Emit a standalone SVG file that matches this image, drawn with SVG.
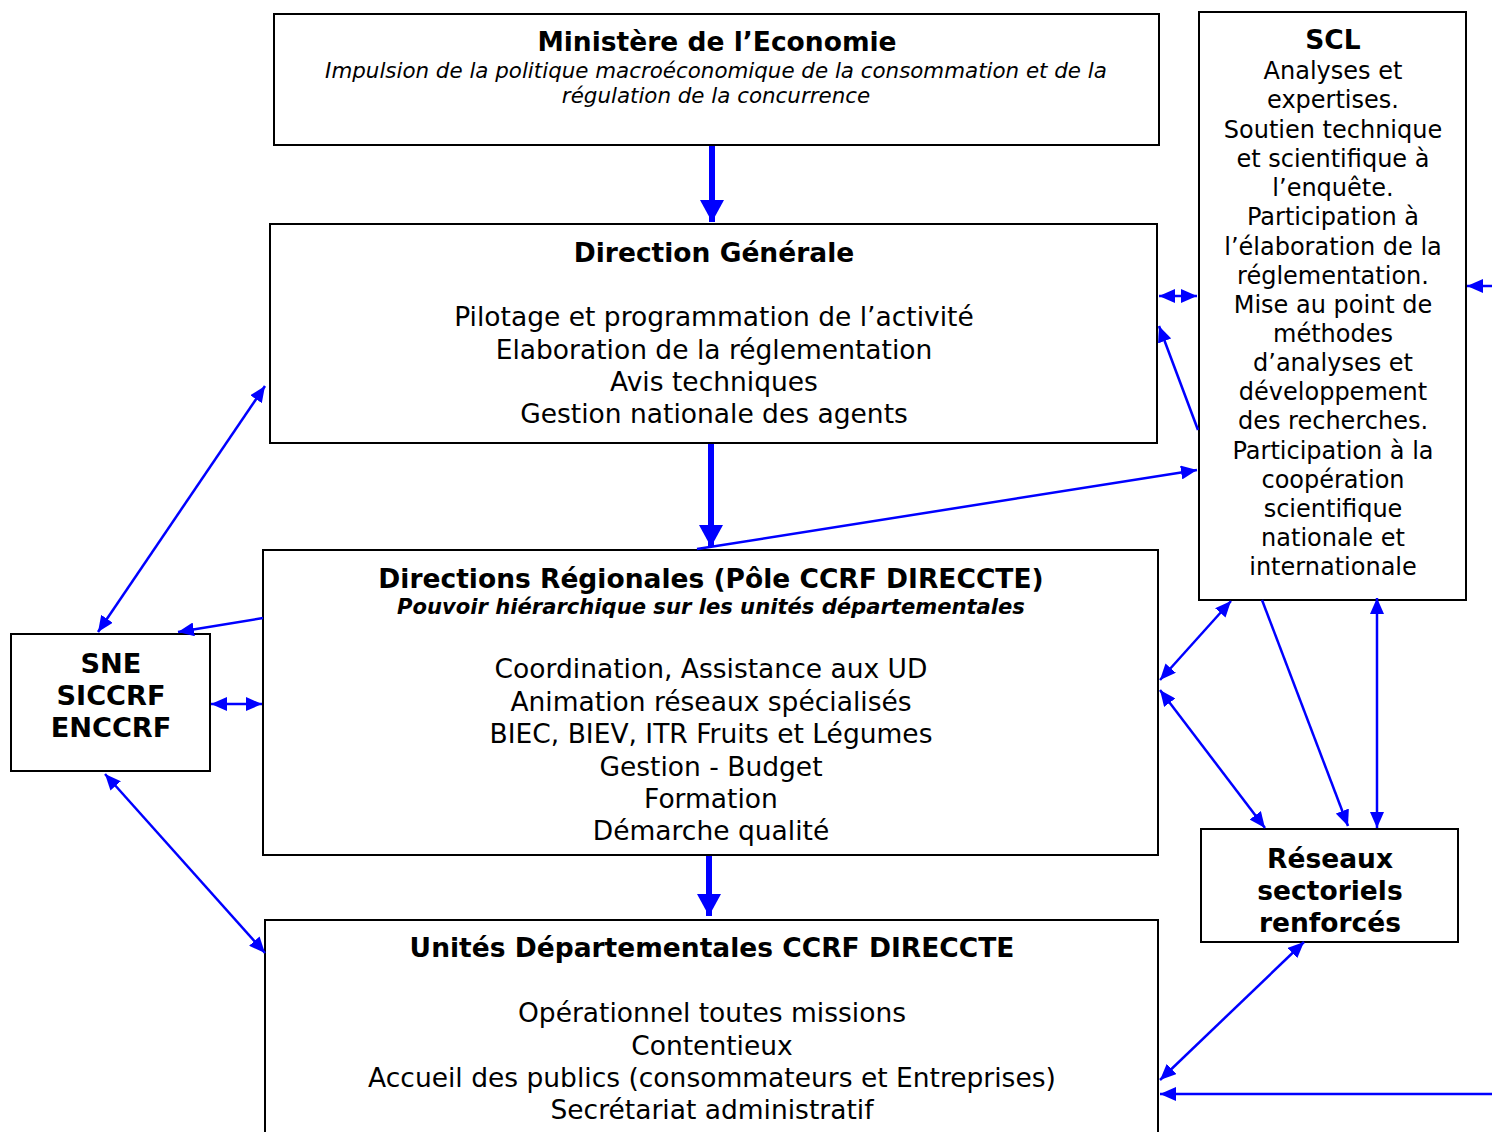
<svg xmlns="http://www.w3.org/2000/svg" width="1492" height="1132" viewBox="0 0 1492 1132">
<defs>
<marker id="ah" markerUnits="userSpaceOnUse" markerWidth="16" markerHeight="14" refX="16" refY="7" orient="auto-start-reverse" viewBox="0 0 16 14">
<path d="M0,0 L16,7 L0,14 Z" fill="#0000ff"/>
</marker>
<marker id="big" markerUnits="userSpaceOnUse" markerWidth="22" markerHeight="24" refX="22" refY="12" orient="auto" viewBox="0 0 22 24">
<path d="M0,0 L22,12 L0,24 Z" fill="#0000ff"/>
</marker>
</defs>
<style>
.box{fill:#fff;stroke:#000;stroke-width:2}
text{font-family:"DejaVu Sans",Verdana,sans-serif;fill:#000;text-anchor:middle}
.t{font-size:26.5px;font-weight:bold}
.b{font-size:26.5px}
.i{font-size:21.4px;font-style:italic}
.bi{font-size:21.1px;font-style:italic;font-weight:bold}
.s{font-size:24px}
.n{font-size:27.2px;font-weight:bold}
.c{fill:none;stroke:#0000ff;stroke-width:2.5}
.thick{fill:none;stroke:#0000ff;stroke-width:6}
</style>
<rect width="1492" height="1132" fill="#fff"/>
<g id="ministere">
<rect class="box" x="274" y="14" width="885" height="131"/>
<text class="t" x="717" y="51">Ministère de l’Economie</text>
<text class="i" x="716" y="78">Impulsion de la politique macroéconomique de la consommation et de la</text>
<text class="i" x="716" y="103">régulation de la concurrence</text>
</g>
<g id="dg">
<rect class="box" x="270" y="224" width="887" height="219"/>
<text class="t" x="714" y="262">Direction Générale</text>
<text class="b" x="714" y="326">Pilotage et programmation de l’activité</text>
<text class="b" x="714" y="359">Elaboration de la réglementation</text>
<text class="b" x="714" y="391">Avis techniques</text>
<text class="b" x="714" y="423">Gestion nationale des agents</text>
</g>
<g id="dr">
<rect class="box" x="263" y="550" width="895" height="305"/>
<text class="t" x="711" y="588">Directions Régionales (Pôle CCRF DIRECCTE)</text>
<text class="bi" x="711" y="614">Pouvoir hiérarchique sur les unités départementales</text>
<text class="b" x="711" y="678">Coordination, Assistance aux UD</text>
<text class="b" x="711" y="711">Animation réseaux spécialisés</text>
<text class="b" x="711" y="743">BIEC, BIEV, ITR Fruits et Légumes</text>
<text class="b" x="711" y="776">Gestion - Budget</text>
<text class="b" x="711" y="808">Formation</text>
<text class="b" x="711" y="840">Démarche qualité</text>
</g>
<g id="ud">
<rect class="box" x="265" y="920" width="893" height="230"/>
<text class="t" x="712" y="957">Unités Départementales CCRF DIRECCTE</text>
<text class="b" x="712" y="1022">Opérationnel toutes missions</text>
<text class="b" x="712" y="1055">Contentieux</text>
<text class="b" x="712" y="1087">Accueil des publics (consommateurs et Entreprises)</text>
<text class="b" x="712" y="1119">Secrétariat administratif</text>
</g>
<g id="sne">
<rect class="box" x="11" y="634" width="199" height="137"/>
<text class="n" x="111" y="673">SNE</text>
<text class="n" x="111" y="705">SICCRF</text>
<text class="n" x="111" y="737">ENCCRF</text>
</g>
<g id="scl">
<rect class="box" x="1199" y="12" width="267" height="588"/>
<text class="t" x="1333" y="49">SCL</text>
<text class="s" x="1333" y="79">Analyses et</text>
<text class="s" x="1333" y="108">expertises.</text>
<text class="s" x="1333" y="138">Soutien technique</text>
<text class="s" x="1333" y="167">et scientifique à</text>
<text class="s" x="1333" y="196">l’enquête.</text>
<text class="s" x="1333" y="225">Participation à</text>
<text class="s" x="1333" y="255">l’élaboration de la</text>
<text class="s" x="1333" y="284">réglementation.</text>
<text class="s" x="1333" y="313">Mise au point de</text>
<text class="s" x="1333" y="342">méthodes</text>
<text class="s" x="1333" y="371">d’analyses et</text>
<text class="s" x="1333" y="400">développement</text>
<text class="s" x="1333" y="429">des recherches.</text>
<text class="s" x="1333" y="459">Participation à la</text>
<text class="s" x="1333" y="488">coopération</text>
<text class="s" x="1333" y="517">scientifique</text>
<text class="s" x="1333" y="546">nationale et</text>
<text class="s" x="1333" y="575">internationale</text>
</g>
<g id="reseaux">
<rect class="box" x="1201" y="829" width="257" height="113"/>
<text class="t" x="1330" y="868">Réseaux</text>
<text class="t" x="1330" y="900">sectoriels</text>
<text class="t" x="1330" y="932">renforcés</text>
</g>
<g id="connectors">
<line class="thick" x1="712" y1="146" x2="712" y2="222" marker-end="url(#big)"/>
<line class="thick" x1="711" y1="444" x2="711" y2="547" marker-end="url(#big)"/>
<line class="thick" x1="709" y1="856" x2="709" y2="916" marker-end="url(#big)"/>
<line class="c" x1="1159" y1="296" x2="1197" y2="296" marker-start="url(#ah)" marker-end="url(#ah)"/>
<line class="c" x1="1198" y1="430" x2="1159" y2="326" marker-end="url(#ah)"/>
<line class="c" x1="697" y1="549" x2="1197" y2="470" marker-end="url(#ah)"/>
<line class="c" x1="1492" y1="286" x2="1467" y2="286" marker-end="url(#ah)"/>
<line class="c" x1="98" y1="632" x2="265" y2="386" marker-start="url(#ah)" marker-end="url(#ah)"/>
<line class="c" x1="263" y1="618" x2="178" y2="632" marker-end="url(#ah)"/>
<line class="c" x1="211" y1="704" x2="262" y2="704" marker-start="url(#ah)" marker-end="url(#ah)"/>
<line class="c" x1="105" y1="774" x2="265" y2="953" marker-start="url(#ah)" marker-end="url(#ah)"/>
<line class="c" x1="1231" y1="601" x2="1160" y2="680" marker-start="url(#ah)" marker-end="url(#ah)"/>
<line class="c" x1="1160" y1="690" x2="1265" y2="828" marker-start="url(#ah)" marker-end="url(#ah)"/>
<line class="c" x1="1262" y1="600" x2="1348" y2="826" marker-end="url(#ah)"/>
<line class="c" x1="1377" y1="598" x2="1377" y2="828" marker-start="url(#ah)" marker-end="url(#ah)"/>
<line class="c" x1="1304" y1="942" x2="1160" y2="1080" marker-start="url(#ah)" marker-end="url(#ah)"/>
<line class="c" x1="1492" y1="1094" x2="1160" y2="1094" marker-end="url(#ah)"/>
</g>
</svg>
